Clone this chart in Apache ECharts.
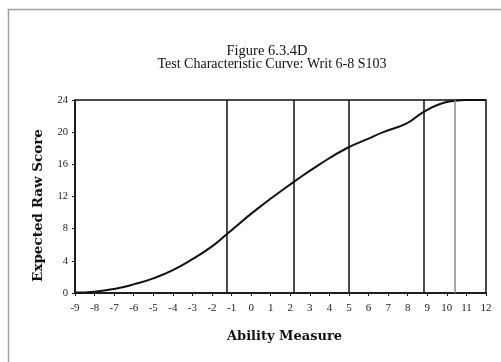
<!DOCTYPE html>
<html>
<head>
<meta charset="utf-8">
<script src="https://cdn.jsdelivr.net/npm/echarts@6/dist/echarts.min.js"></script>
<style>html,body{margin:0;padding:0;background:#fff}#c{width:501px;height:362px}</style>
</head>
<body>
<div id="c"></div>
<script>
var abilityX = [-9, -8, -7, -6, -5, -4, -3, -2, -1.25, 0.28, 2.2, 3.5, 4.88, 6.0, 6.75, 7.95, 8.8, 9.65, 10.42, 11, 12];
var rawScore = [0.05, 0.16, 0.5, 1.07, 1.82, 2.85, 4.2, 5.8, 7.3, 10.4, 13.85, 16.0, 18.0, 19.2, 20.0, 21.1, 22.5, 23.5, 23.9, 24, 24];
var blackCutLines = [-1.25, 2.2, 5.0, 8.8];
var grayCutLines = [10.42];
var titleText = 'Figure 6.3.4D';
var subtitleText = 'Test Characteristic Curve: Writ 6-8 S103';
var xName = 'Ability Measure';
var yName = 'Expected Raw Score';

var serif = 'Liberation Serif';
var wide = 'DejaVu Serif';
var curve = abilityX.map(function (x, i) { return [x, rawScore[i]]; });
var marks = blackCutLines.map(function (x) { return { xAxis: x, lineStyle: { color: '#111', width: 1.5, type: 'solid' } }; })
  .concat(grayCutLines.map(function (x) { return { xAxis: x, lineStyle: { color: '#888', width: 1.5, type: 'solid' } }; }));

var chart = echarts.init(document.getElementById('c'));
chart.setOption({
  animation: false,
  backgroundColor: '#fff',
  graphic: [{
    type: 'rect', shape: { x: 8.5, y: 9.5, width: 700, height: 700 },
    style: { fill: 'none', stroke: '#a0a0a0', lineWidth: 1.5 }, silent: true
  }],
  title: [
    { text: titleText, left: 262, top: 39, textAlign: 'center',
      textStyle: { fontFamily: serif, fontSize: 14.5, fontWeight: 'normal', color: '#111' } },
    { text: subtitleText, left: 267, top: 52, textAlign: 'center',
      textStyle: { fontFamily: serif, fontSize: 14, fontWeight: 'normal', color: '#111' } }
  ],
  grid: { left: 75, right: 15, top: 100, bottom: 69, show: true, borderColor: '#111', borderWidth: 1.5, backgroundColor: 'transparent' },
  xAxis: {
    type: 'value', min: -9, max: 12, interval: 1,
    name: xName, nameLocation: 'middle', nameGap: 37,
    nameTextStyle: { fontFamily: wide, fontSize: 13, fontWeight: 'bold', color: '#111', padding: [0, 0, 0, 8] },
    axisLine: { onZero: false, lineStyle: { color: '#111', width: 1.5 } },
    axisTick: { length: 3, lineStyle: { color: '#111', width: 1 } },
    axisLabel: { fontFamily: serif, fontSize: 11, color: '#222', margin: 10 },
    splitLine: { show: false }
  },
  yAxis: {
    type: 'value', min: 0, max: 24, interval: 4,
    name: yName, nameLocation: 'middle', nameGap: 30,
    nameTextStyle: { fontFamily: wide, fontSize: 13.5, fontWeight: 'bold', color: '#111', padding: [0, 18, 0, 0] },
    axisLine: { show: true, onZero: false, lineStyle: { color: '#111', width: 1.5 } },
    axisTick: { show: true, length: 3, lineStyle: { color: '#111', width: 1 } },
    axisLabel: { fontFamily: serif, fontSize: 10.5, color: '#222', margin: 7 },
    splitLine: { show: false }
  },
  series: [{
    type: 'line', data: curve, smooth: 0.5, symbol: 'none',
    lineStyle: { color: '#111', width: 2 },
    markLine: { silent: true, symbol: ['none', 'none'], label: { show: false }, data: marks }
  }]
});
</script>
</body>
</html>
